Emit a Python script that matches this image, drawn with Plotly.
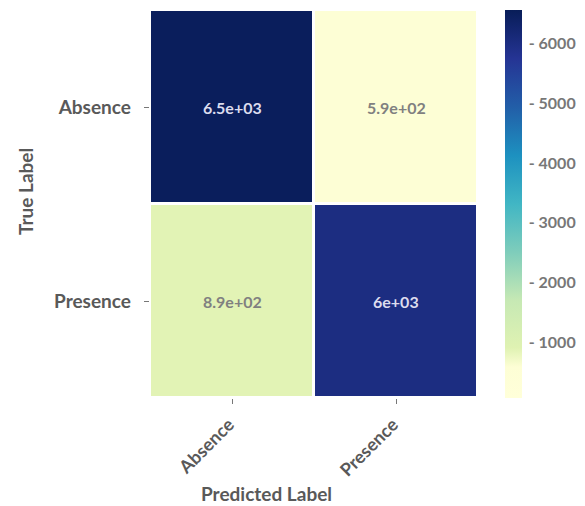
import plotly.graph_objects as go

true_labels = ["Absence", "Presence"]
pred_labels = ["Absence", "Presence"]
counts = [[6500, 590], [890, 6000]]
cbar_ticks = [1000, 2000, 3000, 4000, 5000, 6000]
cbar_ticktext = ["- 1000", "- 2000", "- 3000", "- 4000", "- 5000", "- 6000"]

FONT = "Lato, 'Open Sans', sans-serif"
GRAY = "#595959"

ylgnbu = [
    [0.0, "#ffffd9"], [0.08, "#fdfed5"], [0.13, "#dff2b2"], [0.25, "#c7e9b4"],
    [0.375, "#7fcdbb"], [0.5, "#41b6c4"], [0.625, "#1d91c0"], [0.75, "#225ea8"],
    [0.875, "#253494"], [1.0, "#081d58"],
]

fig = go.Figure()
fig.add_trace(go.Heatmap(
    z=counts, x=pred_labels, y=true_labels,
    colorscale=ylgnbu,
    zmin=80, zmax=6550, xgap=3, ygap=3,
    hoverinfo="skip",
    colorbar=dict(
        x=1.082, xanchor="left", xpad=0, y=0.5, yanchor="middle", len=1.0, lenmode="fraction",
        ypad=0, thickness=17, outlinewidth=0,
        tickmode="array", tickvals=cbar_ticks, ticktext=cbar_ticktext,
        ticks="outside", ticklen=4, tickcolor="rgba(0,0,0,0)",
        tickfont=dict(family=FONT, size=16, color="#777", weight="bold"),
    ),
))

for i, row in enumerate(counts):
    for j, v in enumerate(row):
        dark = v > 3000
        fig.add_annotation(
            x=pred_labels[j], y=true_labels[i], text="{:.2g}".format(v),
            showarrow=False,
            font=dict(family=FONT, size=16, weight="bold",
                      color="#dcdcee" if dark else "#808080"),
        )

fig.add_annotation(x=-0.378, y=0.531, xref="paper", yref="paper", text="True Label",
                   textangle=-90, showarrow=False, xanchor="center", yanchor="middle",
                   font=dict(family=FONT, size=19, color=GRAY, weight="bold"))
fig.add_annotation(x=0.354, y=-0.245, xref="paper", yref="paper", text="Predicted Label",
                   showarrow=False, xanchor="center", yanchor="middle",
                   font=dict(family=FONT, size=19, color=GRAY, weight="bold"))

fig.update_xaxes(tickangle=-45, ticks="outside", ticklen=5, tickcolor="#777",
                 tickfont=dict(family=FONT, size=18, color=GRAY, weight="bold"),
                 ticksuffix=" ", automargin=False,
                 showgrid=False, zeroline=False, showline=False)
fig.update_yaxes(autorange="reversed", ticks="outside", ticklen=5, tickcolor="#777",
                 tickfont=dict(family=FONT, size=19, color=GRAY, weight="bold"),
                 ticksuffix="  ", automargin=False,
                 showgrid=False, zeroline=False, showline=False)

# page body has an 8px margin, so the plot is offset by 8px from the window corner
fig.update_layout(
    width=585, height=506,
    margin=dict(l=142, r=115, t=2, b=116, autoexpand=False),
    paper_bgcolor="white", plot_bgcolor="white",
    showlegend=False,
)

fig.write_html("out.html")
